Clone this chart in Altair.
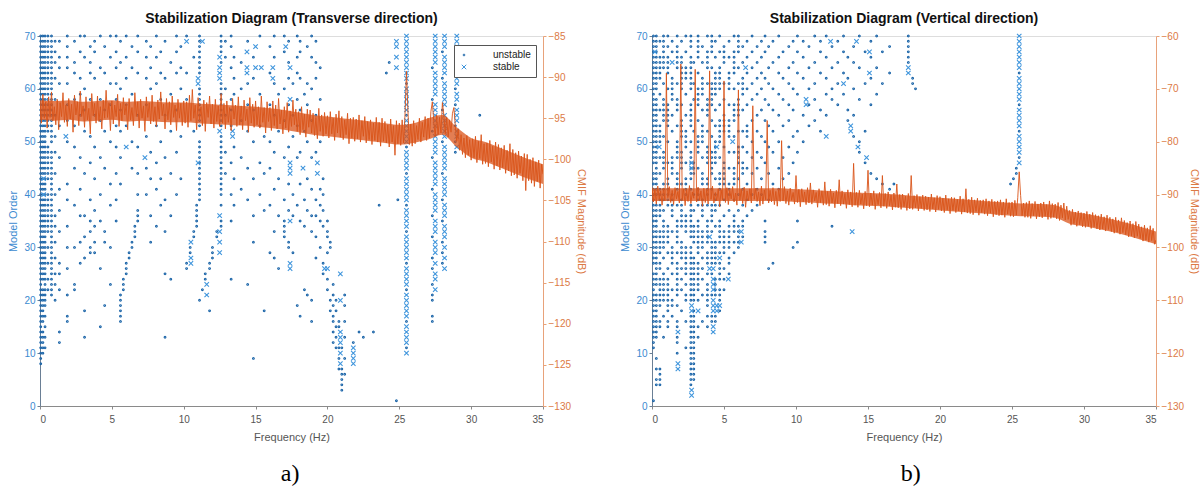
import altair as alt
import pandas as pd

# ---------------- data ----------------
FREQ_STEP = 0.1  # spectrum frequency resolution (Hz), spectra start at 0 Hz

# CMIF spectrum, panel a (Transverse), dB, one value every 0.1 Hz from 0 to 35 Hz
mag_a = [
    -93.2, -95.6, -92.1, -95.0, -93.0, -96.2, -92.4, -94.9, -91.8, -95.3,
    -93.6, -95.8, -92.7, -96.4, -93.1, -94.8, -91.9, -95.5, -93.4, -96.0,
    -92.6, -95.1, -93.3, -96.7, -92.2, -94.6, -93.0, -95.9, -91.7, -94.8,
    -93.5, -96.1, -92.4, -95.2, -93.8, -96.9, -92.0, -94.7, -93.2, -95.6,
    -92.3, -95.4, -93.6, -96.3, -92.8, -95.0, -91.6, -94.9, -93.1, -96.5,
    -92.9, -95.7, -93.4, -94.8, -92.1, -96.0, -93.2, -95.3, -92.5, -94.6,
    -93.3, -96.4, -92.6, -95.2, -93.7, -95.9, -91.9, -94.8, -93.0, -96.2,
    -92.7, -95.0, -93.5, -96.6, -92.4, -94.9, -93.1, -95.7, -92.2, -95.4,
    -93.6, -96.0, -92.8, -95.1, -91.8, -94.7, -93.3, -96.3, -92.6, -95.2,
    -93.0, -95.8, -92.3, -94.9, -93.4, -96.5, -92.7, -95.0, -93.2, -95.9,
    -92.9, -95.6, -93.0, -96.1, -92.2, -95.3, -91.5, -95.0, -93.4, -96.4,
    -92.5, -95.2, -93.6, -95.9, -92.8, -96.6, -93.1, -94.9, -92.3, -95.7,
    -93.3, -96.2, -92.7, -95.4, -93.5, -96.0, -92.0, -95.6, -93.2, -96.3,
    -92.9, -95.5, -93.7, -96.5, -92.6, -95.1, -93.4, -96.0, -92.4, -95.8,
    -93.5, -96.4, -92.8, -95.3, -93.9, -96.7, -92.5, -95.6, -93.3, -96.1,
    -92.9, -95.8, -93.6, -96.2, -92.3, -95.5, -93.7, -96.8, -93.0, -95.4,
    -93.7, -96.5, -92.9, -95.9, -93.4, -96.3, -92.6, -95.7, -94.0, -96.9,
    -93.6, -96.2, -93.1, -96.7, -94.1, -96.0, -92.8, -95.8, -93.9, -96.6,
    -94.2, -97.0, -93.6, -96.4, -94.5, -97.3, -93.9, -96.1, -94.0, -96.8,
    -94.4, -97.1, -94.9, -97.5, -93.8, -96.6, -94.6, -97.2, -94.3, -96.9,
    -94.7, -97.4, -94.2, -96.9, -95.0, -97.7, -94.5, -96.8, -94.1, -97.3,
    -94.8, -97.6, -95.2, -97.0, -94.4, -98.1, -95.0, -97.4, -94.9, -97.8,
    -95.1, -97.5, -94.6, -97.9, -95.3, -97.2, -94.8, -98.0, -95.4, -97.6,
    -95.2, -98.2, -95.6, -97.7, -94.9, -97.9, -95.5, -98.4, -95.0, -97.8,
    -95.4, -98.0, -95.8, -98.5, -95.1, -97.9, -95.9, -99.5, -95.3, -98.1,
    -95.6, -98.3, -95.2, -98.0, -94.5, -89.3, -94.0, -98.2, -95.7, -98.4,
    -95.3, -98.1, -95.9, -97.6, -95.0, -97.9, -95.5, -97.3, -94.8, -97.7,
    -95.0, -97.4, -94.2, -93.0, -95.4, -97.2, -94.6, -97.0, -94.9, -96.8,
    -93.1, -94.6, -96.9, -94.9, -97.3, -95.2, -96.7, -94.4, -93.7, -96.0,
    -97.8, -96.3, -98.9, -97.0, -99.4, -97.4, -99.8, -97.1, -99.5, -97.6,
    -100.1, -97.5, -99.8, -97.2, -100.4, -97.8, -99.9, -97.0, -100.6, -98.1,
    -100.5, -98.0, -100.9, -97.7, -100.3, -98.4, -101.2, -97.9, -100.8, -98.2,
    -101.3, -98.6, -101.0, -98.3, -101.7, -98.9, -101.4, -98.1, -102.0, -98.8,
    -101.9, -99.2, -102.3, -99.0, -101.7, -99.6, -102.6, -99.3, -103.8, -99.4,
    -102.6, -100.0, -102.9, -99.8, -103.3, -100.3, -102.7, -100.1, -103.5, -100.6,
    -101.8,
]
# dense core of the panel-a spectrum band, one value per Hz (0..35)
band_a_hi = [
    -92.8, -92.9, -92.8, -93.0, -92.9, -92.8, -93.0, -92.9, -93.0, -93.1,
    -93.1, -93.2, -93.3, -93.4, -93.5, -93.6, -93.8, -94.0, -94.3, -94.6,
    -94.8, -95.0, -95.2, -95.4, -95.6, -95.8, -95.6, -95.0, -94.6, -96.1,
    -97.4, -97.9, -98.6, -99.3, -100.0, -100.6,
]
band_a_lo = [
    -95.2, -95.3, -95.2, -95.4, -95.3, -95.2, -95.4, -95.3, -95.4, -95.5,
    -95.5, -95.6, -95.7, -95.8, -95.9, -96.0, -96.2, -96.4, -96.7, -97.0,
    -97.2, -97.4, -97.6, -97.8, -98.0, -98.2, -98.0, -97.6, -97.0, -98.5,
    -99.8, -100.3, -101.0, -101.7, -102.4, -103.0,
]

# CMIF spectrum, panel b (Vertical), dB, one value every 0.1 Hz from 0 to 35 Hz
mag_b = [
    -88.6, -91.4, -89.0, -91.8, -88.4, -90.9, -89.3, -92.0, -88.8, -91.2,
    -67.0, -90.6, -88.5, -91.5, -89.2, -91.9, -88.7, -90.8, -89.4, -91.6,
    -65.3, -91.0, -88.9, -92.1, -89.1, -91.3, -88.3, -91.7, -89.5, -90.7,
    -66.3, -91.4, -88.6, -91.1, -89.3, -92.2, -88.8, -91.5, -89.0, -91.8,
    -66.6, -90.9, -88.4, -91.6, -89.6, -91.2, -88.9, -92.3, -89.1, -91.0,
    -68.5, -91.5, -88.7, -91.9, -89.2, -90.8, -88.5, -91.4, -89.7, -92.0,
    -70.2, -91.1, -89.0, -91.7, -88.6, -92.4, -89.3, -91.2, -88.9, -91.6,
    -73.2, -90.9, -88.8, -91.3, -89.5, -92.1, -88.4, -91.8, -89.1, -91.0,
    -76.0, -91.6, -89.2, -91.4, -88.7, -91.9, -89.4, -92.2, -88.9, -91.3,
    -79.8, -91.2, -88.5, -91.7, -89.3, -92.0, -88.8, -91.1, -89.6, -91.8,
    -86.4, -91.5, -89.0, -92.3, -88.9, -91.4, -89.5, -91.9, -88.7, -91.6,
    -87.8, -91.8, -89.1, -91.2, -89.6, -92.4, -88.9, -91.5, -89.3, -92.0,
    -87.6, -91.9, -89.4, -92.2, -89.0, -91.6, -89.7, -92.5, -89.2, -91.7,
    -87.2, -92.1, -89.3, -91.8, -89.8, -92.6, -89.1, -91.9, -89.5, -92.3,
    -84.1, -92.0, -89.6, -92.4, -89.2, -91.8, -89.9, -92.7, -89.4, -92.1,
    -85.4, -92.3, -89.7, -92.0, -89.3, -92.8, -90.0, -91.9, -89.6, -92.5,
    -86.4, -92.2, -89.8, -92.6, -89.5, -92.1, -90.1, -92.9, -89.7, -92.4,
    -88.0, -92.5, -90.0, -92.8, -89.9, -92.3, -90.3, -93.0, -89.8, -92.7,
    -86.4, -92.8, -90.2, -92.5, -90.0, -93.1, -90.4, -92.6, -90.1, -93.0,
    -90.3, -92.9, -90.5, -93.2, -89.9, -92.7, -90.6, -93.3, -90.2, -92.8,
    -90.4, -93.1, -90.7, -93.4, -90.1, -92.9, -90.8, -93.6, -90.5, -93.0,
    -90.6, -93.4, -90.9, -93.1, -90.3, -93.7, -90.8, -93.3, -88.9, -93.5,
    -90.9, -93.6, -90.5, -93.8, -91.0, -93.2, -90.7, -93.9, -91.1, -93.4,
    -91.0, -93.7, -90.8, -94.0, -91.2, -93.5, -90.9, -94.2, -91.3, -93.8,
    -91.2, -94.0, -91.0, -93.9, -91.4, -94.3, -90.8, -93.7, -91.5, -94.1,
    -91.4, -94.2, -91.1, -93.9, -90.6, -85.7, -90.2, -94.0, -91.6, -94.3,
    -91.5, -94.3, -91.2, -94.5, -91.7, -94.0, -91.3, -94.6, -91.8, -94.2,
    -91.6, -94.4, -91.4, -94.1, -91.9, -94.7, -91.2, -94.5, -91.7, -94.3,
    -91.8, -94.6, -91.5, -94.9, -92.0, -94.4, -91.6, -94.8, -92.2, -94.7,
    -93.0, -95.8, -92.8, -95.5, -93.3, -96.0, -93.1, -95.7, -93.4, -96.1,
    -93.5, -96.2, -93.2, -96.0, -93.7, -96.4, -93.4, -96.1, -93.8, -96.5,
    -94.0, -96.7, -93.7, -96.5, -94.2, -96.9, -93.9, -96.6, -94.3, -97.0,
    -94.6, -97.3, -94.3, -97.1, -94.8, -97.5, -94.4, -97.2, -94.9, -97.6,
    -95.3, -98.0, -95.0, -97.8, -95.5, -98.2, -95.1, -97.9, -95.6, -98.3,
    -96.1, -98.8, -95.8, -98.6, -96.3, -99.0, -95.9, -98.7, -96.4, -99.4,
    -98.6,
]
band_b_hi = [
    -88.8, -88.8, -88.8, -88.8, -88.8, -88.8, -88.8, -88.8, -88.8, -88.8,
    -89.0, -89.1, -89.3, -89.4, -89.6, -89.7, -89.8, -90.0, -90.2, -90.4,
    -90.6, -90.8, -91.0, -91.2, -91.4, -91.6, -91.7, -91.8, -92.0, -93.1,
    -93.6, -94.1, -94.7, -95.4, -96.2, -97.0,
]
band_b_lo = [
    -91.2, -91.2, -91.2, -91.2, -91.2, -91.2, -91.2, -91.2, -91.2, -91.2,
    -91.4, -91.5, -91.7, -91.8, -92.0, -92.1, -92.2, -92.4, -92.6, -92.8,
    -93.0, -93.2, -93.4, -93.6, -93.8, -94.0, -94.1, -94.2, -94.4, -95.5,
    -96.0, -96.5, -97.1, -97.8, -98.6, -99.4,
]

# Stabilization poles: (frequency Hz, model orders; "a-b" = every order from a to b)
unstable_a = [
    (0.05, "8-70"), (0.2, "10-14 16-22 24-70"), (0.35, "11 13 15 17 19-70"),
    (0.55, "22 24 27 30 33-40 43-49 52-70"), (0.8, "21-48 50-70"),
    (1.05, "20 23 25 28 31 34 36 40 44 48 51 55 58 62 65 67 69"),
    (1.35, "12 14 22 25 27 33 37 41 47 53 61 64 66 69"),
    (1.9, "16 17 21 26 30 34 39 42 50 54 57 61 64 66 68 70"),
    (2.4, "22 23 30 38 45 49 53 58 63 65 69"), (2.8, "27 31 36 41 47 55 59 62 67 70"),
    (3.1, "13 18 28 32 36 44 52 56 60 66 70"), (3.5, "29 30 33 35 39 46 51 58 63 65 68"),
    (3.8, "29 31 34 37 43 49 55 62 67 69"), (4.2, "15 26 35 40 47 54 58 64 70"),
    (4.5, "19 31 33 45 52 56 63 68"), (4.9, "23 30 38 42 50 57 61 66 70"),
    (5.3, "35 39 44 49 53 58 61 64 67 70"), (5.6, "16-21 42 47 52 56 60 65 69"),
    (5.8, "22 23 24"), (6.0, "25 26 27 53 57 62 66 70"), (6.2, "28 29"),
    (6.4, "30 31 45 50 59 64 68"), (6.6, "32 33 34"), (6.8, "35 36 37 40 44 49 55 63 67 70"),
    (7.4, "40 45 51 57 62 66 69"), (7.7, "31 36 43 48 60 64 68"),
    (8.1, "34 41 46 53 61 66 70"), (8.4, "38 43 50 58 63 67"),
    (8.7, "13 25 33 39 47 55 62 69"), (9.1, "24 36 44 52 59 65"),
    (9.5, "40 48 56 63 67 70"), (9.8, "43 51 60 64 68"), (10.2, "26 27 58 63 70"),
    (10.45, "29 30"), (10.7, "32 33 52 66"), (10.9, "34-38"), (11.1, "20 39-50 53-60 63-70"),
    (11.3, "22"), (11.5, "24 25"), (11.8, "18 26 27"), (12.0, "28 29 30"), (12.3, "32 33"),
    (12.6, "34 35 38 40-51 53-61 65 67-70"), (12.9, "44 48 55 60 66 69"),
    (13.3, "24 35 40 46 53 56 58 64 68 70"), (13.5, "38 43 49 59 62 66"),
    (14.0, "41 47 54 60 65"), (14.45, "23 39 45 52 57 61 69"),
    (14.85, "9 31 36 43 50 56 62 66"), (15.3, "40 46 53 59 70"), (15.6, "18 37 44 51"),
    (16.0, "29 38 45 50 57 63 68"), (16.3, "28 33 41 48 55 61 66 70"),
    (16.6, "26 36 43 52 59"), (17.0, "32-35 39 47 54 60 67 70"),
    (17.3, "30 31 37 42 49 57 62 65 69"), (17.6, "29 36 40 51 55 61"),
    (17.9, "19 38 47 53 58 63 66 70"), (18.1, "17 35 42 48 56 62 67 69"),
    (18.4, "22 34 39 52 59"), (18.6, "21 37 43 50 57 61 68"),
    (18.9, "16 20 33 36 41 47 54 60 66 70"), (19.2, "28 32 36 39 48 55 62 65 69"),
    (19.5, "30 35 38 41 50 58 64"), (19.7, "25 27 34 37 40 43"),
    (20.0, "22 24 29 32 33 35"), (20.2, "18 20 30 31"), (20.4, "12 14 16 17 19 21 23"),
    (20.6, "11 13 15 18 20"), (20.8, "7 9 11 15 16"), (21.0, "3-7 11"),
    (21.2, "6 9 13 16 19 21"), (21.8, "12"), (22.2, "14"), (22.5, "13"), (23.2, "14"),
    (23.6, "38"), (24.1, "63"), (24.3, "65"), (24.8, "1"), (24.9, "39"),
    (25.5, "11 16 22 27 33 38 44 49 55 61"),
    (27.3, "16 17 20 21 23 26 28 32 36 41 47 52 58 64"),
    (28.0, "27 29 31 35 39 44 50 56 62 67"), (28.9, "48 50 53 57 60"), (30.6, "55"),
]
stable_a = [
    (0.25, "40 43"), (1.8, "51"), (6.0, "49"), (7.3, "47"), (10.2, "69"),
    (10.5, "27 28 31"), (11.0, "46 61 62"), (11.3, "69"), (11.6, "21 23"),
    (12.5, "29 31 33 36 52 62 63 64 66"), (13.4, "51 52"), (14.4, "63 64 67"),
    (15.0, "64 68"), (15.4, "64"), (16.2, "62 64"), (17.1, "68"),
    (17.4, "26 27 35 44 45 46 58 64"), (18.3, "45"), (19.3, "44 46"), (19.8, "26"),
    (20.0, "26"), (20.9, "8 10 12 13 14 20 25"), (21.8, "8 9 10 11"),
    (24.8, "64 66 68 69"),
    (25.5, "10 12-15 17-21 23-26 28-32 34-37 39-43 45-48 50-54 56-60 62-70"),
    (27.5, "22 24 25 27 29-31 33-35 37-40 42-46 48-51 53-57 59-63 65-70"),
    (28.15, "26 28 30 32-34 36-38 40-43 45-49 51-55 57-61 63-66 68-70"),
    (29.0, "49 51 52 54-56 58 59 61-70"),
]

unstable_b = [
    (0.1, "1 11-25 27-44 46-70"), (0.3, "4 5 7 9 13-21 23-38 40-58 60-70"),
    (0.55, "4-7 15 16 19-24 26 27 29-33 36-41 44 47 50-53 56 59 62-66 69"),
    (0.8, "13 17 20-25 28 30-35 37 39-42 45-48 51 54-58 61 64-70"),
    (1.1, "15 16 18-24 26 29 31-34 38-43 46 50 53-57 60 63-66 68 70"),
    (1.4, "17 19 20 22 25 27-30 33 36-40 44-47 52 55 58-62 67 69"),
    (1.75, "10 12 13 15 16 19 21-27 29 31-35 38 41-44 47-50 53 56-58 61 64-68 70"),
    (2.05, "18 22 24 26 28-31 34-39 42 45-48 51-54 57 60-66 69"),
    (2.35, "11 16 20 21 23 25-30 33-36 40-43 46 49-52 55 59 62-64 67 70"),
    (2.7, "4-17 20-30 32-38 41 43-48 50 53-57 60-66 68-70"),
    (2.9, "5-18 20-28 31-34 37 40 44-46 52 58 61 65"),
    (3.2, "13 15 20 22-27 29-35 38-41 45 48-51 54 57-60 63 66-70"),
    (3.5, "16 21 24 26 28 30-33 36-39 42-44 47 50-53 56 59-62 65 68"),
    (3.85, "15 17 19-23 25 27-29 31-35 38 40-43 46-49 52 55-58 61 64-67 70"),
    (4.15, "16 17 21 25 27-31 33 35-38 41 44-48 51 54 57-61 64 67-70"),
    (4.4, "16 17 21-24 27-31 34 37-40 43 46-50 53 56 59-63 66 69"),
    (4.7, "18 20-22 24-27 29 31-35 38 41-44 47 50-54 57 60-64 67 70"),
    (5.0, "22 24 26 29-33 36 39 42-46 49 52-55 58 61 65-68"),
    (5.35, "25 27 28 30-34 37 40-42 45 48 51-54 57 60-63 66 69"),
    (5.7, "29 31 33-36 39 42-45 48 51 54-57 60 63-67 70"),
    (6.0, "30-34 37 40 43 46-49 52 55-58 61 64 67-70"),
    (6.3, "32 34 35 38 41 44-46 49 52 56 59-62 65 68"),
    (6.6, "36 39 42 45 48 51-53 57 60 63 66 69"),
    (6.95, "37 40 44 47 50 54 58 61 64 67 70"), (7.3, "38 41 45 48 52 55 59 62 65 68"),
    (7.6, "40 43 47 51 56 60 63 66 69"), (7.85, "31 32 33 35 46 50 54 58 62 67 70"),
    (8.1, "26 39 44 49 53 57 61 64 68"), (8.4, "27 42 48 52 56 60 65 69"),
    (8.8, "41 45 50 55 59 63 66 70"), (9.1, "43 47 53 58 62 67"),
    (9.5, "44 49 54 57 61 64 68"), (9.8, "30 46 51 56 60 65 69"),
    (10.1, "31 35 48 52 59 63 67 70"), (10.5, "50 55 62 66 69"),
    (10.9, "53 57 60 64 68"), (11.3, "54 58 61 65 70"), (11.7, "52 56 63 67 69"),
    (12.1, "55 59 62 66 70"), (12.5, "34 58 60 64 68"), (12.9, "57 61 65 69"),
    (13.3, "59 63 67 70"), (13.6, "54 56 62 66"), (14.0, "51 55 60 65 68"),
    (14.4, "48 50 58 64 70"), (14.8, "46 52 61 67"), (15.2, "44 57 62 66 69"),
    (15.6, "43 59 64 70"), (16.0, "42 61 67"), (16.5, "41 63 68"), (16.8, "42"),
    (17.8, "65-70"), (18.1, "61 62"), (18.3, "60"),
    (24.9, "42"), (25.1, "43"), (25.3, "44 45"), (25.5, "47 52 57 63"),
]
stable_b = [
    (0.2, "67"), (0.5, "49"), (1.4, "65"), (1.8, "7 8 14"), (2.75, "2 3 18 19 45 46"),
    (3.2, "18"), (4.0, "26 32"), (4.25, "14 15 18 19 20 22 23 24 26"), (4.5, "49 18 19"),
    (4.7, "19 28"), (5.3, "24"), (5.6, "50"), (6.2, "31 33"), (6.5, "64"),
    (10.7, "57 58"), (12.1, "51"), (12.4, "69"), (13.3, "61"), (13.8, "52 53"),
    (13.9, "33"), (14.2, "69"), (14.3, "49"), (14.9, "47"), (15.1, "63 67"),
    (17.8, "63 64"), (25.5, "46 48-51 53-56 58-62 64-70"),
]

# ---------------- styling ----------------
BLUE_DOT = "#1a64a8"
BLUE_X = "#3f95dc"
BLUE_AX = "#3b8ad0"
ORANGE = "#D95319"
ORANGE_AX = "#dc7a45"
GRAY = "#555555"
FONT = "Liberation Sans"
XPATH = "M-1,-1L1,1M-1,1L1,-1"


def expand(tracks, kind):
    rows = []
    for f, spec in tracks:
        for tok in spec.split():
            if "-" in tok:
                a, b = tok.split("-")
                for o in range(int(a), int(b) + 1):
                    rows.append({"f": f, "order": o, "type": kind})
            else:
                rows.append({"f": f, "order": float(tok), "type": kind})
    return rows


def panel(mag, band_hi, band_lo, unstable, stable, title, db_domain, db_ticks,
          legend_x, legend_y, width):
    pts = pd.DataFrame(expand(unstable, "unstable") + expand(stable, "stable"))
    spec = pd.DataFrame({"f": [round(i * FREQ_STEP, 1) for i in range(len(mag))], "db": mag})
    band = pd.DataFrame({"f": list(range(len(band_hi))), "hi": band_hi, "lo": band_lo})

    xenc = alt.X(
        "f:Q",
        scale=alt.Scale(domain=[0, 35], nice=False, zero=False),
        axis=alt.Axis(
            title="Frequency (Hz)", values=[0, 5, 10, 15, 20, 25, 30, 35],
            labelColor=GRAY, titleColor=GRAY, domainColor="#8a8a8a", tickColor="#8a8a8a",
            grid=False, tickSize=3, labelPadding=5, titlePadding=7,
            titleFontWeight="normal",
        ),
    )
    leg = alt.Legend(
        title=None, orient="none", legendX=legend_x, legendY=legend_y,
        strokeColor="#555555", fillColor="white", padding=5, labelFontSize=10,
        labelColor="#222222", labelFont=FONT, rowPadding=2, symbolStrokeWidth=1,
        labelOffset=24, labelLimit=80,
    )
    dom = ["unstable", "stable"]
    points = alt.Chart(pts).mark_point(filled=False, strokeWidth=1.1, opacity=1).encode(
        x=xenc,
        y=alt.Y(
            "order:Q",
            scale=alt.Scale(domain=[0, 70], nice=False),
            axis=alt.Axis(
                orient="left", title="Model Order", values=list(range(0, 71, 10)),
                labelColor=BLUE_AX, titleColor=BLUE_AX, domainColor="#6a7f95",
                tickColor="#6a7f95", grid=False, tickSize=3, labelPadding=2, titlePadding=5,
                titleFontWeight="normal",
            ),
        ),
        shape=alt.Shape("type:N", scale=alt.Scale(domain=dom, range=["circle", XPATH]), legend=leg),
        size=alt.Size("type:N", scale=alt.Scale(domain=dom, range=[3, 20]), legend=leg),
        color=alt.Color("type:N", scale=alt.Scale(domain=dom, range=[BLUE_DOT, BLUE_X]), legend=leg),
    )
    db_scale = alt.Scale(domain=db_domain, nice=False, zero=False)
    db_axis = alt.Axis(
        orient="right", title="CMIF Magnitude (dB)", values=db_ticks,
        labelColor=ORANGE_AX, titleColor=ORANGE_AX, domainColor="#e8a27a",
        tickColor="#e8a27a", grid=False, tickSize=3, labelPadding=2, titlePadding=5,
        titleFontWeight="normal",
    )
    area = alt.Chart(band).mark_area(color=ORANGE, opacity=0.75, interpolate="monotone").encode(
        x=xenc,
        y=alt.Y("hi:Q", scale=db_scale, axis=db_axis, title="CMIF Magnitude (dB)"),
        y2="lo:Q",
    )
    line = alt.Chart(spec).mark_line(color=ORANGE, strokeWidth=0.9, clip=True).encode(
        x=xenc,
        y=alt.Y("db:Q", scale=db_scale, axis=db_axis, title="CMIF Magnitude (dB)"),
    )
    dbl = alt.layer(area, line).resolve_scale(y="shared")
    layered = (
        alt.layer(points, dbl)
        .resolve_scale(y="independent", shape="shared", color="shared", size="shared")
        .properties(
            width=width, height=370,
            title=alt.Title(title, fontSize=14, font=FONT, fontWeight="bold", color="#111111", offset=5),
        )
    )
    return layered


chart_a = panel(
    mag_a, band_a_hi, band_a_lo, unstable_a, stable_a,
    "Stabilization Diagram (Transverse direction)",
    [-130, -85], list(range(-130, -84, 5)), 414, 9, 503,
)
chart_b = panel(
    mag_b, band_b_hi, band_b_lo, unstable_b, stable_b,
    "Stabilization Diagram (Vertical direction)",
    [-130, -60], list(range(-130, -59, 10)), 417, 8, 504,
)

bottom = dict(orient="bottom", anchor="middle", font="Liberation Serif", fontSize=24,
              fontWeight="normal", color="black", offset=19)
wrap_a = alt.hconcat(chart_a, title=alt.Title("a)", dx=-7, **bottom))
wrap_b = alt.hconcat(chart_b, title=alt.Title("b)", dx=1, **bottom))

chart = (
    alt.hconcat(wrap_a, wrap_b, spacing=31)
    .properties(padding={"left": 7, "top": 11, "right": 2, "bottom": 5})
    .configure_view(stroke="#9a9a9a", strokeWidth=1)
    .configure_axis(labelFont=FONT, titleFont=FONT, labelFontSize=11, titleFontSize=11,
                    titleFontWeight="normal")
    .configure(background="white")
)

chart.save("out.html", embed_options={"renderer": "svg", "actions": False})
